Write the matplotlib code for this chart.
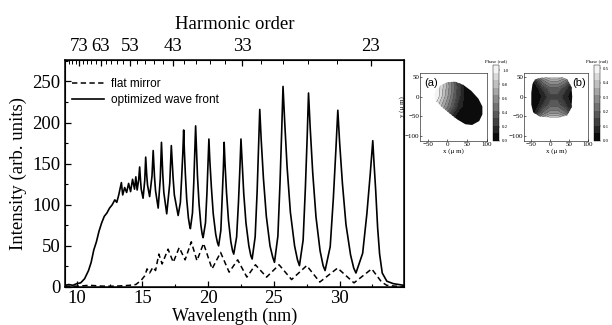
import numpy as np
import matplotlib
matplotlib.use("Agg")
import matplotlib.pyplot as plt
from matplotlib.lines import Line2D
from matplotlib.patches import Polygon

# ---- spectrum data ----
# optimized wave front (solid)
wf_wl = [9.1, 9.4, 9.7, 10.0, 10.3, 10.6, 10.9, 11.1, 11.3, 11.5, 11.7, 11.9, 12.1, 12.3, 12.5,
         12.7, 12.9, 13.05, 13.2, 13.4, 13.5, 13.65, 13.8, 13.95, 14.1, 14.25, 14.4, 14.5, 14.6,
         14.72, 14.79, 14.86, 14.91, 15.05,
         15.18, 15.25, 15.33, 15.39, 15.55,
         15.73, 15.82, 15.92, 16.0, 16.2,
         16.36, 16.45, 16.55, 16.63, 16.85,
         17.08, 17.2, 17.33, 17.43, 17.72,
         17.89, 17.99, 18.08, 18.14, 18.19, 18.27, 18.37, 18.50, 18.59, 18.65,
         18.81, 18.91, 18.99, 19.05, 19.11, 19.19, 19.31, 19.45, 19.55, 19.62,
         19.80, 19.91, 19.99, 20.06, 20.13, 20.25, 20.39, 20.58, 20.71, 20.8,
         20.97, 21.07, 21.16, 21.22, 21.29, 21.40, 21.55, 21.73, 21.86, 21.95,
         22.17, 22.31, 22.42, 22.5, 22.59, 22.71, 22.88, 23.10, 23.25, 23.35,
         23.58, 23.73, 23.84, 23.93, 24.04, 24.21, 24.43, 24.71, 24.92, 25.05,
         25.31, 25.47, 25.60, 25.7, 25.83, 26.01, 26.26, 26.58, 26.80, 26.95,
         27.23, 27.40, 27.54, 27.64, 27.77, 27.96, 28.21, 28.52, 28.75, 28.9,
         29.29, 29.53, 29.72, 29.87, 30.01, 30.22, 30.49, 30.84, 31.08, 31.25,
         31.76, 32.08, 32.34, 32.53, 32.62, 32.75, 32.9, 33.05, 33.25, 33.6, 34.1, 34.9]
wf_int = [2, 3, 2, 4, 5, 10, 20, 30, 45, 55, 68, 78, 86, 90, 96,
          100, 106, 103, 112, 127, 112, 121, 115, 126, 116, 131, 119, 134, 118,
          131, 146, 129, 119, 108,
          130, 158, 136, 124, 110,
          135, 166, 134, 117, 96,
          132, 176, 137, 115, 89,
          126, 172, 134, 112, 87,
          103, 134, 165, 191, 167, 137, 107, 84, 75, 71,
          90, 127, 165, 196, 169, 135, 101, 75, 64, 60,
          78, 114, 150, 180, 154, 121, 89, 64, 54, 50,
          69, 107, 144, 176, 149, 115, 81, 55, 44, 40,
          61, 103, 145, 180, 151, 114, 78, 50, 38, 34,
          61, 116, 170, 216, 179, 132, 86, 50, 36, 30,
          62, 126, 190, 244, 200, 146, 91, 50, 33, 26,
          57, 120, 183, 236, 193, 139, 85, 44, 26, 20,
          49, 108, 166, 215, 175, 126, 76, 39, 23, 17,
          41, 89, 138, 178, 152, 118, 72, 40, 17, 7, 4, 2]

# flat mirror (dashed)
fm_wl = [9.1, 10.0, 11.0, 12.0, 13.0, 14.0, 14.5, 14.9, 15.2, 15.35, 15.55, 15.8, 16.0, 16.25,
         16.5, 16.95, 17.35, 17.8, 18.25, 18.72, 19.15, 19.65, 20.3, 20.95, 21.6, 22.25, 22.95,
         23.6, 24.45, 25.4, 26.35, 27.5, 28.5, 29.85, 31.1, 32.45, 33.2, 33.6, 34.9]
fm_int = [1, 1, 2, 1, 1, 2, 3, 8, 14, 22, 17, 24, 20, 40,
          28, 46, 30, 48, 33, 55, 32, 53, 22, 42, 18, 33, 12,
          27, 12, 27, 9, 26, 6, 23, 5, 22, 6, 2, 0]

# top axis: harmonic orders
harm_conv = 745.0  # wavelength (nm) * harmonic order
harm_labels = [73, 63, 53, 43, 33, 23]
harm_ticks = list(range(23, 81, 2))

# ---- inset phase maps (coarse grids) ----
pa_x = [-75, -50, -25, 0, 25, 50, 75, 100]
pa_y = [-100, -75, -50, -25, 0, 25, 50]
pa_phase = [
    [0.44, 0.22, 0.00, 0.00, 0.00, 0.00, 0.00, 0.00],
    [0.88, 0.62, 0.36, 0.09, 0.00, 0.00, 0.00, 0.00],
    [1.05, 0.94, 0.65, 0.35, 0.03, 0.00, 0.00, 0.00],
    [1.05, 1.05, 0.87, 0.55, 0.20, 0.00, 0.00, 0.00],
    [1.05, 1.05, 1.02, 0.66, 0.29, 0.00, 0.00, 0.00],
    [1.05, 1.05, 1.05, 0.71, 0.31, 0.00, 0.00, 0.00],
    [1.05, 1.05, 1.05, 0.68, 0.26, 0.00, 0.00, 0.00],
]
pa_outline = [(-15, 30), (0, 37), (20, 38), (40, 30), (60, 15), (78, -5), (88, -25),
              (88, -45), (80, -62), (62, -72), (45, -70), (25, -58), (5, -42),
              (-15, -25), (-30, -10), (-33, 5), (-28, 20)]

pb_x = [-60, -40, -20, 0, 20, 40, 60]
pb_y = [-60, -40, -20, 0, 20, 40, 60]
pb_phase = [
    [0.02, 0.24, 0.40, 0.48, 0.48, 0.40, 0.26],
    [0.00, 0.05, 0.21, 0.29, 0.29, 0.22, 0.08],
    [0.00, 0.00, 0.10, 0.18, 0.18, 0.11, 0.02],
    [0.00, 0.00, 0.06, 0.14, 0.14, 0.07, 0.01],
    [0.00, 0.00, 0.11, 0.19, 0.19, 0.12, 0.02],
    [0.00, 0.08, 0.24, 0.32, 0.32, 0.25, 0.10],
    [0.05, 0.29, 0.45, 0.50, 0.50, 0.45, 0.30],
]
pb_outline = [(-25, 48), (0, 50), (30, 50), (45, 44), (56, 25), (58, 0), (56, -28),
              (45, -47), (25, -53), (0, -53), (-28, -50), (-45, -40), (-50, -20),
              (-50, 10), (-47, 32), (-40, 44)]

SERIF = "Liberation Serif"
SANS = "Liberation Sans"

fig = plt.figure(figsize=(6.12, 3.25), dpi=100)
ax = fig.add_axes([0.106, 0.117, 0.554, 0.698])

ax.plot(wf_wl, wf_int, color="black", lw=1.2)
ax.plot(fm_wl, fm_int, color="black", lw=1.1, dashes=(3.5, 2.2))

ax.set_xlim(9.1, 34.9)
ax.set_ylim(0, 276)
ax.set_xticks([10, 15, 20, 25, 30])
ax.set_xticks(np.arange(10, 35, 2.5), minor=True)
ax.set_yticks([0, 50, 100, 150, 200, 250])
ax.set_yticks(np.arange(0, 276, 25), minor=True)
ax.tick_params(which="both", direction="in", labelsize=13.5, pad=3)
ax.tick_params(axis="x", pad=2)
ax.tick_params(which="major", length=4.5, width=0.9)
ax.tick_params(which="minor", length=2.5, width=0.8)
for lbl in ax.get_xticklabels() + ax.get_yticklabels():
    lbl.set_fontfamily(SERIF)
ax.set_xlabel("Wavelength (nm)", fontsize=13, family=SERIF, labelpad=0.5)
ax.set_ylabel("Intensity (arb. units)", fontsize=13.5, family=SERIF, labelpad=4)
for sp in ax.spines.values():
    sp.set_linewidth(1.1)

top = ax.twiny()
top.set_xlim(ax.get_xlim())
top.set_xticks([harm_conv / q for q in harm_labels])
top.set_xticklabels([str(q) for q in harm_labels], family=SERIF)
top.set_xticks([harm_conv / q for q in harm_ticks], minor=True)
top.tick_params(which="both", direction="in", labelsize=13.5, pad=4)
top.tick_params(which="major", length=4, width=0.9)
top.tick_params(which="minor", length=3, width=0.7)
top.set_xlabel("Harmonic order", fontsize=13.5, family=SERIF, labelpad=6)

handles = [Line2D([], [], color="black", lw=1.1, dashes=(3.5, 2.2)),
           Line2D([], [], color="black", lw=1.2)]
ax.legend(handles, ["flat mirror", "optimized wave front"], loc="upper left",
          bbox_to_anchor=(0.02, 0.92), frameon=False, prop={"family": SANS, "size": 8.5},
          handlelength=2.7, handletextpad=0.6, labelspacing=0.35, borderaxespad=0, borderpad=0)


def phase_inset(rect, cbar_rect, xs, ys, phase, outline, vmax, cticks, tag, tag_x, ylab):
    iax = fig.add_axes(rect)
    levels = np.linspace(0, vmax, 11)
    cf = iax.contourf(xs, ys, phase, levels=levels, cmap="gray", vmin=0, vmax=vmax)
    cl = iax.contour(xs, ys, phase, levels=levels[1:-1], colors="#222222", linewidths=0.25)
    clip = Polygon(outline, closed=True, transform=iax.transData, facecolor="none", edgecolor="none")
    iax.add_patch(clip)
    cf.set_clip_path(clip)
    cl.set_clip_path(clip)
    iax.set_xlim(-68, 100)
    iax.set_ylim(-112, 60)
    iax.set_xticks([-50, 0, 50, 100])
    iax.set_yticks([-100, -50, 0, 50])
    iax.tick_params(direction="in", labelsize=5, length=1.5, width=0.4, pad=1)
    for lbl in iax.get_xticklabels() + iax.get_yticklabels():
        lbl.set_fontfamily(SERIF)
    for sp in iax.spines.values():
        sp.set_linewidth(0.4)
    iax.set_xlabel("x (\u03bc m)", fontsize=5, family=SERIF, labelpad=1)
    if ylab:
        iax.set_ylabel("y (\u03bc m)", fontsize=5, family=SERIF, labelpad=0)
    iax.text(tag_x, 0.93, tag, transform=iax.transAxes, fontsize=8, family=SANS,
             ha="left" if tag_x < 0.5 else "right", va="top")
    cax = fig.add_axes(cbar_rect)
    cb = fig.colorbar(cf, cax=cax, ticks=cticks)
    cb.outline.set_linewidth(0.3)
    cax.tick_params(labelsize=3.5, length=1, width=0.3, pad=1)
    for lbl in cax.get_yticklabels():
        lbl.set_fontfamily(SERIF)
    cax.set_title("Phase (rad)", fontsize=3.5, family=SERIF, pad=2)
    return iax


phase_inset([0.687, 0.567, 0.109, 0.208], [0.806, 0.567, 0.0098, 0.232],
            pa_x, pa_y, pa_phase, pa_outline, 1.07, [0, 0.2, 0.4, 0.6, 0.8, 1],
            "(a)", 0.06, True)
phase_inset([0.857, 0.567, 0.104, 0.208], [0.971, 0.567, 0.0098, 0.232],
            pb_x, pb_y, pb_phase, pb_outline, 0.52, [0, 0.1, 0.2, 0.3, 0.4, 0.5],
            "(b)", 0.96, False)

fig.savefig("out.png", dpi=100)
